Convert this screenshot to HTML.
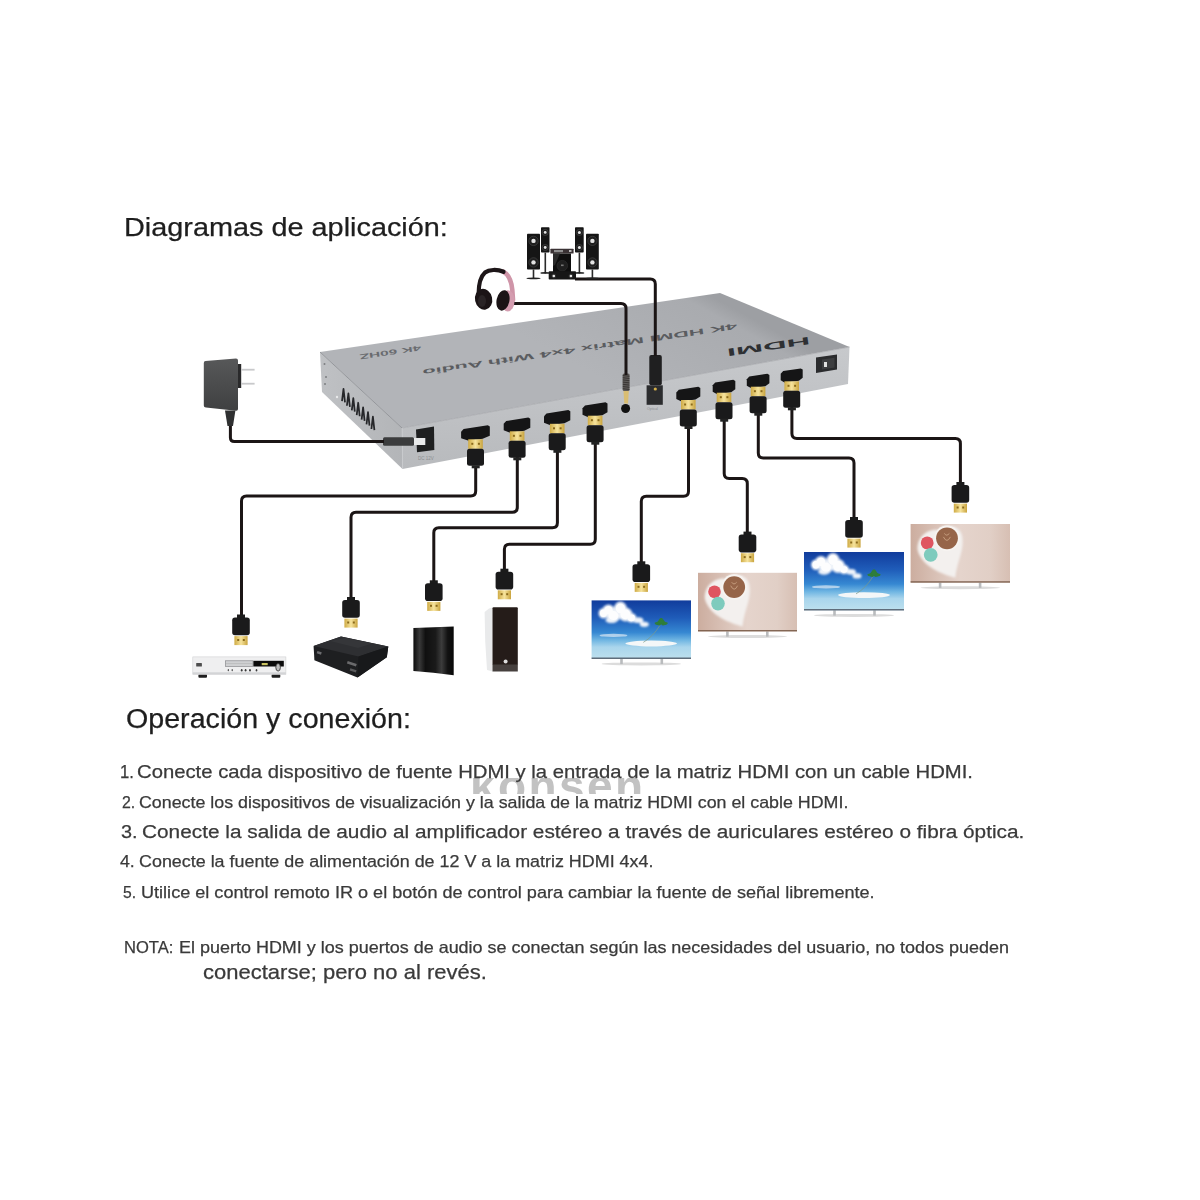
<!DOCTYPE html>
<html><head><meta charset="utf-8"><title>Diagramas de aplicación</title>
<style>
html,body{margin:0;padding:0;background:#fff;}
body{width:1200px;height:1200px;position:relative;overflow:hidden;font-family:"Liberation Sans",sans-serif;}
svg{position:absolute;left:0;top:0;}
.t{position:absolute;white-space:pre;transform-origin:0 0;-webkit-text-stroke:0.25px currentColor;}
.wm{position:absolute;left:470px;top:763px;font-size:46px;font-weight:bold;color:#c2c2c2;letter-spacing:2.4px;line-height:46px;filter:blur(0.7px);}
.mask{position:absolute;background:#fff;}
</style></head><body>
<div class="wm">konsen</div>
<div class="mask" style="left:455px;top:760px;width:210px;height:18px;"></div>
<div class="mask" style="left:455px;top:794px;width:210px;height:20px;"></div>
<svg width="1200" height="1200" viewBox="0 0 1200 1200">
<defs>
<linearGradient id="gTop" gradientUnits="userSpaceOnUse" x1="700" y1="290" x2="640" y2="400">
 <stop offset="0" stop-color="#9d9fa3"/><stop offset="0.12" stop-color="#a9abaf"/><stop offset="1" stop-color="#b2b4b8"/>
</linearGradient>
<linearGradient id="gFront" x1="0" y1="0" x2="0" y2="1">
 <stop offset="0" stop-color="#c7c9cc"/><stop offset="1" stop-color="#b8babd"/>
</linearGradient>
<linearGradient id="gSide" x1="0" y1="0" x2="1" y2="0">
 <stop offset="0" stop-color="#bfc1c4"/><stop offset="1" stop-color="#b3b5b8"/>
</linearGradient>
<linearGradient id="gGold" x1="0" y1="0" x2="1" y2="0">
 <stop offset="0" stop-color="#cfab45"/><stop offset="0.5" stop-color="#f6e39c"/><stop offset="1" stop-color="#c9a43e"/>
</linearGradient>
<linearGradient id="gAdapter" x1="0" y1="0" x2="0" y2="1">
 <stop offset="0" stop-color="#575859"/><stop offset="1" stop-color="#3f4041"/>
</linearGradient>
<linearGradient id="gSky" x1="0" y1="0" x2="0" y2="1">
 <stop offset="0" stop-color="#113c9c"/><stop offset="0.3" stop-color="#1f5cb9"/><stop offset="0.55" stop-color="#3688d2"/><stop offset="0.68" stop-color="#6fb5e2"/><stop offset="0.8" stop-color="#a9d5ec"/><stop offset="1" stop-color="#bde0ee"/>
</linearGradient>
<linearGradient id="gWood" x1="0" y1="0" x2="1" y2="0">
 <stop offset="0" stop-color="#ccad9f"/><stop offset="0.5" stop-color="#e5d4cc"/><stop offset="0.8" stop-color="#e1cfc6"/><stop offset="1" stop-color="#d7bfb3"/>
</linearGradient>
<linearGradient id="gPS3" x1="0" y1="0" x2="1" y2="0">
 <stop offset="0" stop-color="#0c0c0c"/><stop offset="0.15" stop-color="#3a3a3a"/><stop offset="0.3" stop-color="#101010"/>
 <stop offset="0.55" stop-color="#1a1a1a"/><stop offset="0.7" stop-color="#3c3c3c"/><stop offset="0.85" stop-color="#121212"/><stop offset="1" stop-color="#080808"/>
</linearGradient>
<filter id="blur1" x="-50%" y="-50%" width="200%" height="200%"><feGaussianBlur stdDeviation="0.6"/></filter>
<filter id="blur2" x="-50%" y="-50%" width="200%" height="200%"><feGaussianBlur stdDeviation="1.0"/></filter>
</defs>
<polygon points="320,352 720,293 849.5,347 402,428" fill="url(#gTop)"/>
<polygon points="320,352 402,428 402.5,469 322,392" fill="url(#gSide)"/>
<polygon points="402,428 849.5,347 848,384 402.5,469" fill="url(#gFront)"/>
<polyline points="320,352 402,428" fill="none" stroke="#8f9195" stroke-width="0.9"/><polyline points="402,428 849.5,347" fill="none" stroke="#a3a5a9" stroke-width="0.7"/>
<line x1="402.2" y1="428" x2="402.6" y2="469" stroke="#c9cbce" stroke-width="1"/>
<path d="M342.00,401.10 L343.50,388.80 L345.00,402.30 M346.90,405.75 L348.40,393.45 L349.90,406.95 M351.80,410.40 L353.30,398.10 L354.80,411.60 M356.70,415.05 L358.20,402.75 L359.70,416.25 M361.60,419.70 L363.10,407.40 L364.60,420.90 M366.50,424.35 L368.00,412.05 L369.50,425.55 M371.40,429.00 L372.90,416.70 L374.40,430.20" fill="none" stroke="#26272a" stroke-width="1.75" stroke-linejoin="round"/>
<circle cx="337" cy="397" r="1.2" fill="#e8e9ea"/>
<circle cx="324.5" cy="364" r="1" fill="#7d7f82"/><circle cx="326" cy="377" r="1" fill="#7d7f82"/><circle cx="325" cy="384" r="1" fill="#7d7f82"/>
<g transform="translate(579.5,346.5) rotate(171.6)"><text x="0" y="0" font-family="Liberation Sans" font-weight="bold" font-size="8.2" fill="#5a5c60" stroke="#b0b2b6" stroke-width="0.35" paint-order="stroke" text-anchor="middle" textLength="318" lengthAdjust="spacingAndGlyphs">4K HDMI Matrix 4x4 With Audio</text></g>
<g transform="translate(390,350) rotate(171.6)"><text x="0" y="0" font-family="Liberation Sans" font-weight="bold" font-size="7" fill="#696b6f" text-anchor="middle" textLength="62" lengthAdjust="spacingAndGlyphs">4K 60HZ</text></g>
<g transform="translate(768,343) rotate(171.6)"><text x="0" y="0" font-family="Liberation Sans" font-weight="bold" font-size="10.5" fill="#2e3033" text-anchor="middle" textLength="84" lengthAdjust="spacingAndGlyphs">HDMI</text></g>
<polygon points="816,357.5 837,354.5 837,369.5 816,373" fill="#2a2b2d"/><polygon points="822,359.5 834.5,357.7 834.5,367.5 822,369.5" fill="#3d3e40"/><rect x="824" y="362" width="3" height="5" fill="#e0e0e0"/>
<polygon points="416,429.5 434,426.5 434.3,450 417,452.3" fill="#1e1f20"/>
<text x="418" y="460" font-family="Liberation Sans" font-size="4.5" fill="#8c8e91">DC 12V</text>
<rect x="383" y="437.3" width="31" height="8.4" rx="1.5" fill="#3b3c3d"/>
<rect x="414" y="438" width="11.3" height="7" fill="#e8e9ea"/>
<rect x="646.6" y="385.3" width="16.2" height="19.5" fill="#2b2c2e"/>
<circle cx="655.3" cy="389" r="1.6" fill="#d6b04a"/>
<rect x="649.3" y="355" width="12.5" height="30.3" rx="2" fill="#1f1f20"/>
<text x="647" y="410" font-family="Liberation Sans" font-size="3.5" fill="#8c8e91">Optical</text>
<circle cx="625.6" cy="408.5" r="4.5" fill="#111"/>
<rect x="622.6" y="373.5" width="7" height="17.5" rx="1.5" fill="#5d5a58"/>
<g stroke="#2e2b2a" stroke-width="0.8"><line x1="622.8" y1="375.5" x2="629.4" y2="376.3"/><line x1="622.8" y1="377.7" x2="629.4" y2="378.5"/><line x1="622.8" y1="379.9" x2="629.4" y2="380.7"/><line x1="622.8" y1="382.1" x2="629.4" y2="382.9"/><line x1="622.8" y1="384.3" x2="629.4" y2="385.1"/><line x1="622.8" y1="386.5" x2="629.4" y2="387.3"/><line x1="622.8" y1="388.7" x2="629.4" y2="389.5"/></g>
<path d="M623.5,391 L628.8,391 L628,403.5 L624.3,403.5 Z" fill="#d9bd72"/>
<path d="M230.4,426 L230.4,437.5 Q230.4,441.5 234.4,441.5 L384,441.5" fill="none" stroke="#1b1515" stroke-width="3" stroke-linejoin="round" stroke-linecap="butt"/>
<path d="M475.7,466 L475.7,491 Q475.7,496 470.7,496 L246.5,496 Q241.5,496 241.5,501 L241.5,616" fill="none" stroke="#1b1515" stroke-width="3" stroke-linejoin="round" stroke-linecap="butt"/>
<path d="M517.3,457 L517.3,507.3 Q517.3,512.3 512.3,512.3 L356,512.3 Q351,512.3 351,517.3 L351,599" fill="none" stroke="#1b1515" stroke-width="3" stroke-linejoin="round" stroke-linecap="butt"/>
<path d="M557.4,450 L557.4,522.7 Q557.4,527.7 552.4,527.7 L438.8,527.7 Q433.8,527.7 433.8,532.7 L433.8,582" fill="none" stroke="#1b1515" stroke-width="3" stroke-linejoin="round" stroke-linecap="butt"/>
<path d="M595.3,442 L595.3,539.3 Q595.3,544.3 590.3,544.3 L509.4,544.3 Q504.4,544.3 504.4,549.3 L504.4,571" fill="none" stroke="#1b1515" stroke-width="3" stroke-linejoin="round" stroke-linecap="butt"/>
<path d="M688.5,427 L688.5,491.2 Q688.5,496.2 683.5,496.2 L646.3,496.2 Q641.3,496.2 641.3,501.2 L641.3,563" fill="none" stroke="#1b1515" stroke-width="3" stroke-linejoin="round" stroke-linecap="butt"/>
<path d="M724.2,419 L724.2,473.5 Q724.2,478.5 729.2,478.5 L742.3,478.5 Q747.3,478.5 747.3,483.5 L747.3,534" fill="none" stroke="#1b1515" stroke-width="3" stroke-linejoin="round" stroke-linecap="butt"/>
<path d="M758.3,413 L758.3,452.9 Q758.3,457.9 763.3,457.9 L849,457.9 Q854,457.9 854,462.9 L854,519" fill="none" stroke="#1b1515" stroke-width="3" stroke-linejoin="round" stroke-linecap="butt"/>
<path d="M791.9,407 L791.9,433.6 Q791.9,438.6 796.9,438.6 L955.4,438.6 Q960.4,438.6 960.4,443.6 L960.4,484" fill="none" stroke="#1b1515" stroke-width="3" stroke-linejoin="round" stroke-linecap="butt"/>
<path d="M513,303.5 L621,303.5 Q626,303.5 626,308.5 L626,375" fill="none" stroke="#1b1515" stroke-width="3" stroke-linejoin="round" stroke-linecap="butt"/>
<path d="M575,279 L650.3,279 Q655.3,279 655.3,284 L655.3,356" fill="none" stroke="#1b1515" stroke-width="3" stroke-linejoin="round" stroke-linecap="butt"/>
<polygon points="461.1,431.8 463.6,429.1 487.8,425.2 489.8,426.4 489.8,435.8 482.7,438.8 468.7,440.8 461.1,438.3" fill="#151516"/>
<rect x="468.2" y="439.3" width="14.6" height="9.5" fill="url(#gGold)"/>
<rect x="471.3" y="442.8" width="2" height="2" fill="#8a6a1c"/><rect x="477.9" y="442.8" width="2" height="2" fill="#8a6a1c"/>
<rect x="467" y="448.8" width="17" height="17" rx="2.5" fill="#1a1a1b"/>
<rect x="471.7" y="465.3" width="8" height="3" fill="#222"/>
<polygon points="503.7,423.8 506.2,421.1 528.3,417.6 530.3,418.8 530.3,427.8 524.3,430.8 510.3,432.8 503.7,430.3" fill="#151516"/>
<rect x="509.8" y="431.3" width="14.6" height="9.5" fill="url(#gGold)"/>
<rect x="512.9" y="434.8" width="2" height="2" fill="#8a6a1c"/><rect x="519.5" y="434.8" width="2" height="2" fill="#8a6a1c"/>
<rect x="508.6" y="440.8" width="17" height="17" rx="2.5" fill="#1a1a1b"/>
<rect x="513.3" y="457.3" width="8" height="3" fill="#222"/>
<polygon points="544,416.3 546.5,413.6 568.3,410.1 570.3,411.3 570.3,420.3 564.4,423.3 550.4,425.3 544,422.8" fill="#151516"/>
<rect x="549.9" y="423.8" width="14.6" height="9.5" fill="url(#gGold)"/>
<rect x="553" y="427.3" width="2" height="2" fill="#8a6a1c"/><rect x="559.6" y="427.3" width="2" height="2" fill="#8a6a1c"/>
<rect x="548.7" y="433.3" width="17" height="17" rx="2.5" fill="#1a1a1b"/>
<rect x="553.4" y="449.8" width="8" height="3" fill="#222"/>
<polygon points="582.5,408.2 585,405.5 605.5,402.2 607.5,403.4 607.5,412.2 602.3,415.2 588.3,417.2 582.5,414.7" fill="#151516"/>
<rect x="587.8" y="415.7" width="14.6" height="9.5" fill="url(#gGold)"/>
<rect x="590.9" y="419.2" width="2" height="2" fill="#8a6a1c"/><rect x="597.5" y="419.2" width="2" height="2" fill="#8a6a1c"/>
<rect x="586.6" y="425.2" width="17" height="17" rx="2.5" fill="#1a1a1b"/>
<rect x="591.3" y="441.7" width="8" height="3" fill="#222"/>
<polygon points="676.3,392.5 678.8,389.8 698.3,386.7 700.3,387.9 700.3,396.5 695.5,399.5 681.5,401.5 676.3,399" fill="#151516"/>
<rect x="681" y="400" width="14.6" height="9.5" fill="url(#gGold)"/>
<rect x="684.1" y="403.5" width="2" height="2" fill="#8a6a1c"/><rect x="690.7" y="403.5" width="2" height="2" fill="#8a6a1c"/>
<rect x="679.8" y="409.5" width="17" height="17" rx="2.5" fill="#1a1a1b"/>
<rect x="684.5" y="426" width="8" height="3" fill="#222"/>
<polygon points="712.7,385.2 715.2,382.5 733.3,379.7 735.3,380.9 735.3,389.2 731.2,392.2 717.2,394.2 712.7,391.7" fill="#151516"/>
<rect x="716.7" y="392.7" width="14.6" height="9.5" fill="url(#gGold)"/>
<rect x="719.8" y="396.2" width="2" height="2" fill="#8a6a1c"/><rect x="726.4" y="396.2" width="2" height="2" fill="#8a6a1c"/>
<rect x="715.5" y="402.2" width="17" height="17" rx="2.5" fill="#1a1a1b"/>
<rect x="720.2" y="418.7" width="8" height="3" fill="#222"/>
<polygon points="746.8,379.2 749.3,376.5 767.4,373.7 769.4,374.9 769.4,383.2 765.3,386.2 751.3,388.2 746.8,385.7" fill="#151516"/>
<rect x="750.8" y="386.7" width="14.6" height="9.5" fill="url(#gGold)"/>
<rect x="753.9" y="390.2" width="2" height="2" fill="#8a6a1c"/><rect x="760.5" y="390.2" width="2" height="2" fill="#8a6a1c"/>
<rect x="749.6" y="396.2" width="17" height="17" rx="2.5" fill="#1a1a1b"/>
<rect x="754.3" y="412.7" width="8" height="3" fill="#222"/>
<polygon points="780.7,373.8 783.2,371.1 800.7,368.4 802.7,369.6 802.7,377.8 798.9,380.8 784.9,382.8 780.7,380.3" fill="#151516"/>
<rect x="784.4" y="381.3" width="14.6" height="9.5" fill="url(#gGold)"/>
<rect x="787.5" y="384.8" width="2" height="2" fill="#8a6a1c"/><rect x="794.1" y="384.8" width="2" height="2" fill="#8a6a1c"/>
<rect x="783.2" y="390.8" width="17" height="17" rx="2.5" fill="#1a1a1b"/>
<rect x="787.9" y="407.3" width="8" height="3" fill="#222"/>
<rect x="237" y="614.5" width="8" height="4" fill="#1b1b1b"/>
<rect x="232.2" y="617.5" width="17.6" height="17.8" rx="2.8" fill="#1a1a1b"/>
<rect x="234.4" y="636.1" width="13.2" height="9" fill="url(#gGold)"/>
<rect x="237.2" y="639" width="2" height="2" fill="#8a6a1c"/><rect x="242.8" y="639" width="2" height="2" fill="#8a6a1c"/>
<rect x="347" y="597" width="8" height="4" fill="#1b1b1b"/>
<rect x="342.2" y="600" width="17.6" height="17.8" rx="2.8" fill="#1a1a1b"/>
<rect x="344.4" y="618.6" width="13.2" height="9" fill="url(#gGold)"/>
<rect x="347.2" y="621.5" width="2" height="2" fill="#8a6a1c"/><rect x="352.8" y="621.5" width="2" height="2" fill="#8a6a1c"/>
<rect x="429.8" y="580.3" width="8" height="4" fill="#1b1b1b"/>
<rect x="425" y="583.3" width="17.6" height="17.8" rx="2.8" fill="#1a1a1b"/>
<rect x="427.2" y="601.9" width="13.2" height="9" fill="url(#gGold)"/>
<rect x="430" y="604.8" width="2" height="2" fill="#8a6a1c"/><rect x="435.6" y="604.8" width="2" height="2" fill="#8a6a1c"/>
<rect x="500.4" y="568.7" width="8" height="4" fill="#1b1b1b"/>
<rect x="495.6" y="571.7" width="17.6" height="17.8" rx="2.8" fill="#1a1a1b"/>
<rect x="497.8" y="590.3" width="13.2" height="9" fill="url(#gGold)"/>
<rect x="500.6" y="593.2" width="2" height="2" fill="#8a6a1c"/><rect x="506.2" y="593.2" width="2" height="2" fill="#8a6a1c"/>
<rect x="637.3" y="561.3" width="8" height="4" fill="#1b1b1b"/>
<rect x="632.5" y="564.3" width="17.6" height="17.8" rx="2.8" fill="#1a1a1b"/>
<rect x="634.7" y="582.9" width="13.2" height="9" fill="url(#gGold)"/>
<rect x="637.5" y="585.8" width="2" height="2" fill="#8a6a1c"/><rect x="643.1" y="585.8" width="2" height="2" fill="#8a6a1c"/>
<rect x="743.5" y="531.6" width="8" height="4" fill="#1b1b1b"/>
<rect x="738.7" y="534.6" width="17.6" height="17.8" rx="2.8" fill="#1a1a1b"/>
<rect x="740.9" y="553.2" width="13.2" height="9" fill="url(#gGold)"/>
<rect x="743.7" y="556.1" width="2" height="2" fill="#8a6a1c"/><rect x="749.3" y="556.1" width="2" height="2" fill="#8a6a1c"/>
<rect x="850" y="517" width="8" height="4" fill="#1b1b1b"/>
<rect x="845.2" y="520" width="17.6" height="17.8" rx="2.8" fill="#1a1a1b"/>
<rect x="847.4" y="538.6" width="13.2" height="9" fill="url(#gGold)"/>
<rect x="850.2" y="541.5" width="2" height="2" fill="#8a6a1c"/><rect x="855.8" y="541.5" width="2" height="2" fill="#8a6a1c"/>
<rect x="956.4" y="482" width="8" height="4" fill="#1b1b1b"/>
<rect x="951.6" y="485" width="17.6" height="17.8" rx="2.8" fill="#1a1a1b"/>
<rect x="953.8" y="503.6" width="13.2" height="9" fill="url(#gGold)"/>
<rect x="956.6" y="506.5" width="2" height="2" fill="#8a6a1c"/><rect x="962.2" y="506.5" width="2" height="2" fill="#8a6a1c"/>
<path d="M205.5,361 L236,358.5 Q238,358.5 238,360.5 L238,409 Q238,411 236,410.8 L206,407.6 Q203.8,407.4 203.8,405.5 L203.8,363 Q203.8,361.2 205.5,361 Z" fill="url(#gAdapter)"/>
<rect x="238" y="364" width="3.2" height="24" fill="#2a2a2b"/>
<rect x="241" y="368.8" width="13.6" height="1.8" fill="#c8c9cb"/><rect x="241" y="382.8" width="13.6" height="1.8" fill="#c8c9cb"/>
<path d="M225,410.5 L235.4,410.5 L233,426 L227.5,426 Z" fill="#2f3031"/>
<path d="M503,271.5 C508,274 511.5,281 512.3,290 L513,300" fill="none" stroke="#cf95a8" stroke-width="4.6" stroke-linecap="round"/>
<path d="M478.6,294 C478.6,285 480,277 485,272.5 C489,269.5 497,269 503.5,271.8" fill="none" stroke="#1d1618" stroke-width="4.2" stroke-linecap="round"/>
<ellipse cx="507.8" cy="300.8" rx="6.8" ry="10.6" fill="#d49db0"/>
<ellipse cx="503" cy="300.4" rx="6.4" ry="10.4" transform="rotate(12 503 300.4)" fill="#1b1416"/>
<ellipse cx="483.6" cy="299.3" rx="8.6" ry="10.5" transform="rotate(-12 483.6 299.3)" fill="#1b1416"/>
<ellipse cx="482" cy="301" rx="4" ry="6" fill="#3a3336" opacity="0.5"/>
<rect x="544.5" y="252.6" width="1.6" height="20.9" fill="#2a2a2a"/>
<ellipse cx="545.2" cy="272.9" rx="4.8" ry="0.9" fill="#222"/>
<rect x="541" y="227.3" width="8.5" height="25.3" rx="0.8" fill="#151515"/>
<circle cx="545.2" cy="232.4" r="3.1" fill="#1e1e1e" stroke="#4a4a4a" stroke-width="0.6"/><circle cx="545.2" cy="232.4" r="1.4" fill="#e2e2e2"/>
<circle cx="545.2" cy="247.5" r="3.1" fill="#1e1e1e" stroke="#4a4a4a" stroke-width="0.6"/><circle cx="545.2" cy="247.5" r="1.4" fill="#e2e2e2"/>
<rect x="578.6" y="252.6" width="1.6" height="20.9" fill="#2a2a2a"/>
<ellipse cx="579.4" cy="272.9" rx="4.9" ry="0.9" fill="#222"/>
<rect x="575" y="227.3" width="8.7" height="25.3" rx="0.8" fill="#151515"/>
<circle cx="579.4" cy="232.4" r="3.1" fill="#1e1e1e" stroke="#4a4a4a" stroke-width="0.6"/><circle cx="579.4" cy="232.4" r="1.5" fill="#e2e2e2"/>
<circle cx="579.4" cy="247.5" r="3.1" fill="#1e1e1e" stroke="#4a4a4a" stroke-width="0.6"/><circle cx="579.4" cy="247.5" r="1.5" fill="#e2e2e2"/>
<rect x="532.7" y="269.5" width="1.6" height="9.5" fill="#2a2a2a"/>
<ellipse cx="533.5" cy="278.4" rx="7.1" ry="0.9" fill="#222"/>
<rect x="527" y="233.8" width="13" height="35.7" rx="0.8" fill="#151515"/>
<circle cx="533.5" cy="240.9" r="4.7" fill="#1e1e1e" stroke="#4a4a4a" stroke-width="0.6"/><circle cx="533.5" cy="240.9" r="2.2" fill="#e2e2e2"/>
<circle cx="533.5" cy="262.4" r="4.7" fill="#1e1e1e" stroke="#4a4a4a" stroke-width="0.6"/><circle cx="533.5" cy="262.4" r="2.2" fill="#e2e2e2"/>
<rect x="591.6" y="269.5" width="1.6" height="9.5" fill="#2a2a2a"/>
<ellipse cx="592.4" cy="278.4" rx="7" ry="0.9" fill="#222"/>
<rect x="586" y="233.8" width="12.8" height="35.7" rx="0.8" fill="#151515"/>
<circle cx="592.4" cy="240.9" r="4.6" fill="#1e1e1e" stroke="#4a4a4a" stroke-width="0.6"/><circle cx="592.4" cy="240.9" r="2.2" fill="#e2e2e2"/>
<circle cx="592.4" cy="262.4" r="4.6" fill="#1e1e1e" stroke="#4a4a4a" stroke-width="0.6"/><circle cx="592.4" cy="262.4" r="2.2" fill="#e2e2e2"/>
<rect x="550.4" y="248.7" width="23.2" height="4.8" rx="0.6" fill="#3a3234"/><rect x="554" y="250" width="9" height="2.2" fill="#8d8d8d"/><rect x="569" y="250.2" width="2.5" height="1.6" fill="#ddd"/>
<rect x="553" y="253.5" width="18" height="18.5" fill="#0e0e0e"/><path d="M553,253.5 L560,253.5 L555,265 L553,266 Z" fill="#2a2a2a"/><circle cx="562.3" cy="265.7" r="5.3" fill="#1f1f1f" stroke="#333" stroke-width="0.6"/><rect x="561" y="264.5" width="2.6" height="1.6" fill="#777"/>
<rect x="548.7" y="271.3" width="27.3" height="8.2" rx="0.8" fill="#171717"/><circle cx="553.8" cy="276" r="2.4" fill="#2b2b2b"/><circle cx="553.8" cy="276" r="1.3" fill="#e8e8e8"/><circle cx="570.9" cy="276" r="2.4" fill="#2b2b2b"/><circle cx="570.9" cy="276" r="1.3" fill="#e8e8e8"/>
<rect x="198.4" y="674" width="8.6" height="3.7" rx="1" fill="#1e1e1e"/><rect x="271.6" y="674" width="8.7" height="3.7" rx="1" fill="#1e1e1e"/>
<rect x="192.8" y="656.9" width="93.1" height="17.4" fill="#efeff0" stroke="#d0d1d3" stroke-width="0.6"/>
<rect x="192.8" y="672.3" width="93.1" height="2" fill="#d3d4d6"/>
<rect x="196.2" y="663" width="5.7" height="3.5" rx="0.5" fill="#4e4e4e"/>
<rect x="225.3" y="660.8" width="27.7" height="5.7" fill="#cfd0d2" stroke="#7d7e80" stroke-width="0.6"/><line x1="226" y1="663.6" x2="252.5" y2="663.6" stroke="#a9aaac" stroke-width="0.5"/>
<rect x="253.4" y="660.8" width="30.4" height="5.7" fill="#0b0b0b"/><rect x="261.7" y="663" width="6" height="2.2" fill="#c9c260"/>
<ellipse cx="278.1" cy="667.3" rx="2.3" ry="3.8" fill="#bdbdbd" stroke="#2a2a2a" stroke-width="0.8"/>
<g fill="#3a3a3a"><ellipse cx="228.3" cy="670.2" rx="0.6" ry="1.1"/><ellipse cx="232.2" cy="670.2" rx="0.6" ry="1.1"/><ellipse cx="241.7" cy="670.2" rx="0.9" ry="1.2"/><ellipse cx="245.6" cy="670.2" rx="0.9" ry="1.2"/><ellipse cx="250" cy="670.2" rx="0.9" ry="1.2"/><ellipse cx="256.5" cy="670.2" rx="0.8" ry="1.2"/></g>
<path d="M313.6,646 L341,636.6 L388.3,646.4 L386.8,657.3 L357.5,677.5 L314.4,660.3 Z" fill="#1e1f21"/>
<path d="M313.6,646 L341,636.6 L388.3,646.4 L358.5,656.5 Z" fill="#2e2f32"/>
<path d="M358.5,656.5 L388.3,646.4 L386.8,657.3 L357.5,677.5 Z" fill="#18191b"/>
<path d="M330,641 L345,638 L372,643.5 L358,648 Z" fill="#353639"/>
<rect x="347" y="662.5" width="9.5" height="2.6" fill="#6a6a6c" transform="rotate(18 352 664)"/><rect x="350" y="669.2" width="6.5" height="2.4" fill="#5a5a5c" transform="rotate(18 353 670)"/>
<rect x="317" y="651.5" width="4.5" height="2.5" fill="#6d6d70" transform="rotate(18 319 652.7)"/>
<path d="M413.4,628 L453.7,626.4 L453.7,675.3 Q433,672.2 413.4,671 Z" fill="url(#gPS3)"/>
<path d="M489,608.5 L492.5,607.5 L492.5,671.5 L487,670 Q484.6,640 484.6,612 Z" fill="#e9eaeb"/>
<rect x="492.5" y="607.3" width="25.3" height="58" rx="1" fill="#251c19"/>
<rect x="492.5" y="664.5" width="25.3" height="7" fill="#46403e"/>
<circle cx="505.6" cy="661.5" r="2" fill="#dcdcdc"/>
<ellipse cx="641.3" cy="663.9" rx="39.8" ry="1.5" fill="#dcdcdc" filter="url(#blur1)"/>
<rect x="620.2" y="658.7" width="2.6" height="5.4" fill="#b9bbbd"/><rect x="660.5" y="658.7" width="2.6" height="5.4" fill="#b9bbbd"/>
<rect x="591.6" y="600.4" width="99.4" height="58.3" fill="url(#gSky)"/>
<g fill="#ffffff" opacity="0.93" filter="url(#blur2)"><ellipse cx="603.5" cy="613.2" rx="5" ry="5.2"/><ellipse cx="608.5" cy="610.3" rx="6" ry="5.8"/><ellipse cx="613.5" cy="615.6" rx="7" ry="6.4"/><ellipse cx="620.4" cy="608.6" rx="6.5" ry="7"/><ellipse cx="625.4" cy="614.4" rx="7" ry="7"/><ellipse cx="631.4" cy="617.9" rx="5" ry="4.7"/><ellipse cx="638.3" cy="620.2" rx="5" ry="2.9"/><ellipse cx="644.3" cy="624.3" rx="4.5" ry="2.6"/><ellipse cx="611.5" cy="620.2" rx="6" ry="2.9"/></g>
<g fill="#ffffff" opacity="0.9" filter="url(#blur1)"><ellipse cx="603.5" cy="613.2" rx="3.5" ry="3.7"/><ellipse cx="608.5" cy="610.3" rx="4.2" ry="4.1"/><ellipse cx="613.5" cy="615.6" rx="4.9" ry="4.5"/><ellipse cx="620.4" cy="608.6" rx="4.5" ry="4.9"/><ellipse cx="625.4" cy="614.4" rx="4.9" ry="4.9"/><ellipse cx="631.4" cy="617.9" rx="3.5" ry="3.3"/></g>
<ellipse cx="613.5" cy="635.4" rx="13.9" ry="1.7" fill="#dbe8f4" opacity="0.7" filter="url(#blur1)"/>
<ellipse cx="651.2" cy="643.5" rx="25.8" ry="2.9" fill="#f4f7f8" filter="url(#blur1)"/>
<path d="M643.3,642.4 Q653.2,636.5 660.2,624.9" stroke="#7c9a86" stroke-width="0.7" fill="none"/>
<g fill="#2f7d3a" filter="url(#blur1)"><ellipse cx="658.7" cy="622.5" rx="3.2" ry="1.3" transform="rotate(-25 658.7 622.5)"/><ellipse cx="663.7" cy="622.5" rx="3.2" ry="1.3" transform="rotate(25 663.7 622.5)"/><ellipse cx="659.7" cy="620.8" rx="3.2" ry="1.3" transform="rotate(-60 659.7 620.8)"/><ellipse cx="662.7" cy="620.8" rx="3.2" ry="1.3" transform="rotate(60 662.7 620.8)"/><ellipse cx="661.2" cy="623.2" rx="3.2" ry="1.3" transform="rotate(0 661.2 623.2)"/><ellipse cx="657.7" cy="623.8" rx="3.2" ry="1.3" transform="rotate(15 657.7 623.8)"/><ellipse cx="664.7" cy="623.8" rx="3.2" ry="1.3" transform="rotate(-15 664.7 623.8)"/><ellipse cx="661.2" cy="622" rx="2.4" ry="2"/></g>
<rect x="591.6" y="657.5" width="99.4" height="1.5" fill="#5f6d7b"/>
<ellipse cx="747.5" cy="636.5" rx="39.6" ry="1.5" fill="#dcdcdc" filter="url(#blur1)"/>
<rect x="726.1" y="631.3" width="2.6" height="5.4" fill="#b9bbbd"/><rect x="766" y="631.3" width="2.6" height="5.4" fill="#b9bbbd"/>
<rect x="698" y="572.8" width="99" height="58.5" fill="url(#gWood)"/>
<path d="M704.9,599.1 C703.9,584.5 715.8,577.5 725.7,578.6 C730.7,571.6 747.5,572.8 749.5,585.7 C751.5,599.1 744.5,609.1 742.5,626.6 C730.7,623.1 709.9,616.7 704.9,599.1 Z" fill="#f3f0ee" filter="url(#blur2)"/>
<circle cx="714.5" cy="591.7" r="6.3" fill="#df5560" filter="url(#blur1)"/>
<circle cx="718" cy="603.6" r="6.8" fill="#7ecbbd" filter="url(#blur1)"/>
<circle cx="734.2" cy="587.1" r="12.8" fill="#f7f4f1"/>
<circle cx="734.2" cy="587.1" r="10.9" fill="#96654a" filter="url(#blur1)"/>
<path d="M730.7,585.7 q3.5,7 6.9,0 M731.7,582.2 q2,3.5 5,0" stroke="#caa282" stroke-width="0.9" fill="none" filter="url(#blur1)"/>
<rect x="698" y="630.1" width="99" height="1.3" fill="#7a5c4a"/>
<ellipse cx="854" cy="615.4" rx="40" ry="1.5" fill="#dcdcdc" filter="url(#blur1)"/>
<rect x="833.2" y="610.2" width="2.6" height="5.4" fill="#b9bbbd"/><rect x="873.2" y="610.2" width="2.6" height="5.4" fill="#b9bbbd"/>
<rect x="804" y="552" width="100" height="58.2" fill="url(#gSky)"/>
<g fill="#ffffff" opacity="0.93" filter="url(#blur2)"><ellipse cx="816" cy="564.8" rx="5" ry="5.2"/><ellipse cx="821" cy="561.9" rx="6" ry="5.8"/><ellipse cx="826" cy="567.1" rx="7" ry="6.4"/><ellipse cx="833" cy="560.1" rx="6.5" ry="7"/><ellipse cx="838" cy="566" rx="7" ry="7"/><ellipse cx="844" cy="569.5" rx="5" ry="4.7"/><ellipse cx="851" cy="571.8" rx="5" ry="2.9"/><ellipse cx="857" cy="575.9" rx="4.5" ry="2.6"/><ellipse cx="824" cy="571.8" rx="6" ry="2.9"/></g>
<g fill="#ffffff" opacity="0.9" filter="url(#blur1)"><ellipse cx="816" cy="564.8" rx="3.5" ry="3.7"/><ellipse cx="821" cy="561.9" rx="4.2" ry="4.1"/><ellipse cx="826" cy="567.1" rx="4.9" ry="4.5"/><ellipse cx="833" cy="560.1" rx="4.5" ry="4.9"/><ellipse cx="838" cy="566" rx="4.9" ry="4.9"/><ellipse cx="844" cy="569.5" rx="3.5" ry="3.3"/></g>
<ellipse cx="826" cy="586.9" rx="14" ry="1.7" fill="#dbe8f4" opacity="0.7" filter="url(#blur1)"/>
<ellipse cx="864" cy="595.1" rx="26" ry="2.9" fill="#f4f7f8" filter="url(#blur1)"/>
<path d="M856,593.9 Q866,588.1 873,576.4" stroke="#7c9a86" stroke-width="0.7" fill="none"/>
<g fill="#2f7d3a" filter="url(#blur1)"><ellipse cx="871.5" cy="574" rx="3.2" ry="1.3" transform="rotate(-25 871.5 574)"/><ellipse cx="876.5" cy="574" rx="3.2" ry="1.3" transform="rotate(25 876.5 574)"/><ellipse cx="872.5" cy="572.3" rx="3.2" ry="1.3" transform="rotate(-60 872.5 572.3)"/><ellipse cx="875.5" cy="572.3" rx="3.2" ry="1.3" transform="rotate(60 875.5 572.3)"/><ellipse cx="874" cy="574.7" rx="3.2" ry="1.3" transform="rotate(0 874 574.7)"/><ellipse cx="870.5" cy="575.3" rx="3.2" ry="1.3" transform="rotate(15 870.5 575.3)"/><ellipse cx="877.5" cy="575.3" rx="3.2" ry="1.3" transform="rotate(-15 877.5 575.3)"/><ellipse cx="874" cy="573.5" rx="2.4" ry="2"/></g>
<rect x="804" y="609" width="100" height="1.5" fill="#5f6d7b"/>
<ellipse cx="960.3" cy="587.7" rx="39.8" ry="1.5" fill="#dcdcdc" filter="url(#blur1)"/>
<rect x="938.8" y="582.5" width="2.6" height="5.4" fill="#b9bbbd"/><rect x="978.8" y="582.5" width="2.6" height="5.4" fill="#b9bbbd"/>
<rect x="910.6" y="524" width="99.4" height="58.5" fill="url(#gWood)"/>
<path d="M917.6,550.3 C916.6,535.7 928.5,528.7 938.4,529.9 C943.4,522.8 960.3,524 962.3,536.9 C964.3,550.3 957.3,560.3 955.3,577.8 C943.4,574.3 922.5,567.9 917.6,550.3 Z" fill="#f3f0ee" filter="url(#blur2)"/>
<circle cx="927.2" cy="542.9" r="6.4" fill="#df5560" filter="url(#blur1)"/>
<circle cx="930.7" cy="554.8" r="6.9" fill="#7ecbbd" filter="url(#blur1)"/>
<circle cx="947" cy="538.3" r="12.8" fill="#f7f4f1"/>
<circle cx="947" cy="538.3" r="10.9" fill="#96654a" filter="url(#blur1)"/>
<path d="M943.4,536.9 q3.5,7 7,0 M944.4,533.4 q2,3.5 5,0" stroke="#caa282" stroke-width="0.9" fill="none" filter="url(#blur1)"/>
<rect x="910.6" y="581.3" width="99.4" height="1.3" fill="#7a5c4a"/>
</svg>
<div class="t" id="h1" style="left:124.00px;top:214.12px;font-size:26.20px;line-height:26.20px;color:#1e1e1e;transform:scaleX(1.1014)">Diagramas de aplicación:</div>
<div class="t" id="h2" style="left:126.00px;top:706.11px;font-size:26.80px;line-height:26.80px;color:#1e1e1e;transform:scaleX(1.0686)">Operación y conexión:</div>
<div class="t" id="l1" style="left:137.10px;top:763.29px;font-size:18.20px;line-height:18.20px;color:#3a3a3a;transform:scaleX(1.1145)">Conecte cada dispositivo de fuente HDMI y la entrada de la matriz HDMI con un cable HDMI.</div>
<div class="t" id="l1p" style="left:120.00px;top:763.29px;font-size:18.20px;line-height:18.20px;color:#3a3a3a;transform:scaleX(0.9172)">1.</div>
<div class="t" id="l2" style="left:138.50px;top:793.82px;font-size:16.40px;line-height:16.40px;color:#3a3a3a;transform:scaleX(1.0875)">Conecte los dispositivos de visualización y la salida de la matriz HDMI con el cable HDMI.</div>
<div class="t" id="l2p" style="left:121.60px;top:793.82px;font-size:16.40px;line-height:16.40px;color:#3a3a3a;transform:scaleX(0.9669)">2.</div>
<div class="t" id="l3" style="left:141.80px;top:821.65px;font-size:19.20px;line-height:19.20px;color:#3a3a3a;transform:scaleX(1.0842)">Conecte la salida de audio al amplificador estéreo a través de auriculares estéreo o fibra óptica.</div>
<div class="t" id="l3p" style="left:120.60px;top:821.65px;font-size:19.20px;line-height:19.20px;color:#3a3a3a;transform:scaleX(1.0338)">3.</div>
<div class="t" id="l4" style="left:138.50px;top:853.78px;font-size:16.80px;line-height:16.80px;color:#3a3a3a;transform:scaleX(1.0667)">Conecte la fuente de alimentación de 12 V a la matriz HDMI 4x4.</div>
<div class="t" id="l4p" style="left:120.00px;top:853.78px;font-size:16.80px;line-height:16.80px;color:#3a3a3a;transform:scaleX(1.0553)">4.</div>
<div class="t" id="l5" style="left:140.60px;top:885.35px;font-size:16.60px;line-height:16.60px;color:#3a3a3a;transform:scaleX(1.0895)">Utilice el control remoto IR o el botón de control para cambiar la fuente de señal libremente.</div>
<div class="t" id="l5p" style="left:123.00px;top:885.35px;font-size:16.60px;line-height:16.60px;color:#3a3a3a;transform:scaleX(0.9455)">5.</div>
<div class="t" id="n1" style="left:178.60px;top:939.23px;font-size:16.50px;line-height:16.50px;color:#3a3a3a;transform:scaleX(1.0889)">El puerto HDMI y los puertos de audio se conectan según las necesidades del usuario, no todos pueden</div>
<div class="t" id="n1p" style="left:124.00px;top:939.23px;font-size:16.50px;line-height:16.50px;color:#3a3a3a;transform:scaleX(1.0035)">NOTA:</div>
<div class="t" id="n2" style="left:203.00px;top:962.64px;font-size:19.80px;line-height:19.80px;color:#3a3a3a;transform:scaleX(1.1126)">conectarse; pero no al revés.</div>
</body></html>
